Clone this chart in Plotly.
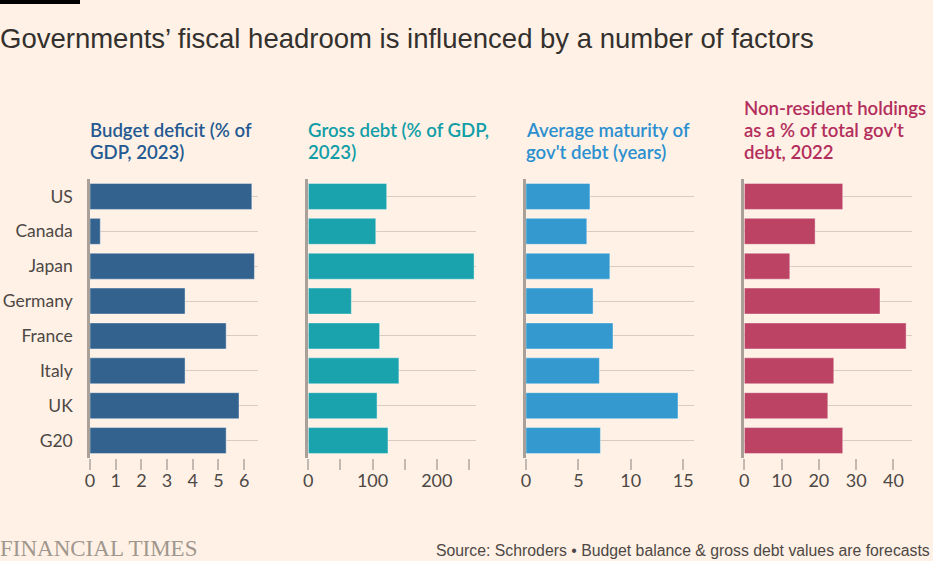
import plotly.graph_objects as go

W, H = 933, 561

countries = ["US", "Canada", "Japan", "Germany", "France", "Italy", "UK", "G20"]
budget_deficit = [6.3, 0.4, 6.4, 3.7, 5.3, 3.7, 5.8, 5.3]
gross_debt = [122, 105, 258, 67, 111, 141, 107, 124]
avg_maturity = [6.1, 5.8, 8.0, 6.4, 8.3, 7.0, 14.5, 7.1]
non_resident = [26.4, 19.0, 12.2, 36.4, 43.4, 24.0, 22.4, 26.4]

headers = [
    ["Budget deficit (% of", "GDP, 2023)"],
    ["Gross debt (% of GDP,", "2023)"],
    ["Average maturity of", "gov't debt (years)"],
    ["Non-resident holdings", "as a % of total gov't", "debt, 2022"],
]
header_colors = ["#245a92", "#0f9ea8", "#2b90cf", "#b32e5c"]
bar_colors = ["#33628f", "#1ba3ad", "#3399cf", "#bc4363"]
series = [budget_deficit, gross_debt, avg_maturity, non_resident]

tick_vals = [[0, 1, 2, 3, 4, 5, 6], [0, 50, 100, 150, 200, 250], [0, 5, 10, 15], [0, 10, 20, 30, 40]]
tick_text = [["0", "1", "2", "3", "4", "5", "6"], ["0", "", "100", "", "200", ""],
             ["0", "5", "10", "15"], ["0", "10", "20", "30", "40"]]
x_ranges = [[0, 6.54], [0, 261], [0, 16.0], [0, 44.9]]
x_px = [(90, 258), (308.3, 476), (526, 693.7), (744.3, 911.7)]

y_top_px, y_bot_px = 179, 458
ydom = [1 - y_bot_px / H, 1 - y_top_px / H]

BG = "#fff1e5"
GRID = "#d6ccc2"
AXIS = "#a8a099"
TICKC = "#c2bab2"
TXT = "#4d4845"
FONT = "Lato"
NARROW = "Liberation Sans Narrow, Liberation Sans, sans-serif"

fig = go.Figure()
layout = {}
for i in range(4):
    xa = "x" if i == 0 else f"x{i+1}"
    ya = "y" if i == 0 else f"y{i+1}"
    fig.add_trace(go.Bar(
        x=series[i], y=countries, orientation="h",
        xaxis=xa, yaxis=ya,
        marker=dict(color=bar_colors[i], line=dict(color="rgba(255,255,255,0.4)", width=1)),
        width=0.745, hoverinfo="x+y", showlegend=False,
    ))
    xkey = "xaxis" if i == 0 else f"xaxis{i+1}"
    ykey = "yaxis" if i == 0 else f"yaxis{i+1}"
    layout[xkey] = dict(
        domain=[x_px[i][0] / W, x_px[i][1] / W], range=x_ranges[i],
        anchor=ya, showgrid=False, zeroline=False, showline=False,
        tickmode="array", tickvals=tick_vals[i], ticktext=tick_text[i],
        ticks="outside", ticklen=11, tickwidth=1.5, tickcolor=TICKC,
        tickfont=dict(family=FONT, size=18, color=TXT), fixedrange=True,
        automargin=False, ticklabelstandoff=-5,
    )
    layout[ykey] = dict(
        domain=ydom, anchor=xa, type="category",
        categoryorder="array", categoryarray=countries,
        autorange=False, range=[7.5, -0.5],
        showgrid=True, gridcolor=GRID, gridwidth=1,
        showline=True, linecolor=AXIS, linewidth=2.5,
        ticks="", showticklabels=(i == 0),
        tickfont=dict(family=FONT, size=17.5, color=TXT),
        ticklabelstandoff=11, fixedrange=True, automargin=False,
    )

annotations = []
LINE_H = 22
LAST_LINE_Y = 152
for i in range(4):
    n = len(headers[i])
    for j, line in enumerate(headers[i]):
        ypx = LAST_LINE_Y - (n - 1 - j) * LINE_H
        annotations.append(dict(
            text=line, xref="paper", yref="paper",
            x=x_px[i][0] / W, y=1 - ypx / H, xanchor="left", yanchor="middle",
            align="left", showarrow=False, borderpad=0, xshift=-1,
            font=dict(family=FONT, size=18.6, color=header_colors[i], weight=600),
        ))

annotations.append(dict(
    text="Governments\u2019 fiscal headroom is influenced by a number of factors",
    xref="paper", yref="paper", x=0, y=1 - 38 / H, xanchor="left", yanchor="middle",
    showarrow=False, borderpad=0, xshift=-1,
    font=dict(family=NARROW, size=27.5, color="#33302e"),
))
annotations.append(dict(
    text="FINANCIAL TIMES", xref="paper", yref="paper", x=0, y=1 - 548 / H,
    xanchor="left", yanchor="middle", showarrow=False, borderpad=0, xshift=-1,
    font=dict(family="Liberation Serif, serif", size=23, color="#a0978e"),
))
annotations.append(dict(
    text="Source: Schroders \u2022 Budget balance &amp; gross debt values are forecasts",
    xref="paper", yref="paper", x=931 / W, y=1 - 550 / H,
    xanchor="right", yanchor="middle", showarrow=False, borderpad=0,
    font=dict(family=NARROW, size=15.8, color=TXT),
))

shapes = [dict(type="rect", xref="paper", yref="paper", x0=0, x1=80 / W,
               y0=1 - 4 / H, y1=1, fillcolor="#000000", line=dict(width=0))]

fig.update_layout(
    width=W, height=H, margin=dict(l=0, r=0, t=0, b=0, autoexpand=False),
    paper_bgcolor=BG, plot_bgcolor=BG, bargap=0.25,
    annotations=annotations, shapes=shapes, **layout,
)

fig.write_html("out.html", config={"displayModeBar": False})
